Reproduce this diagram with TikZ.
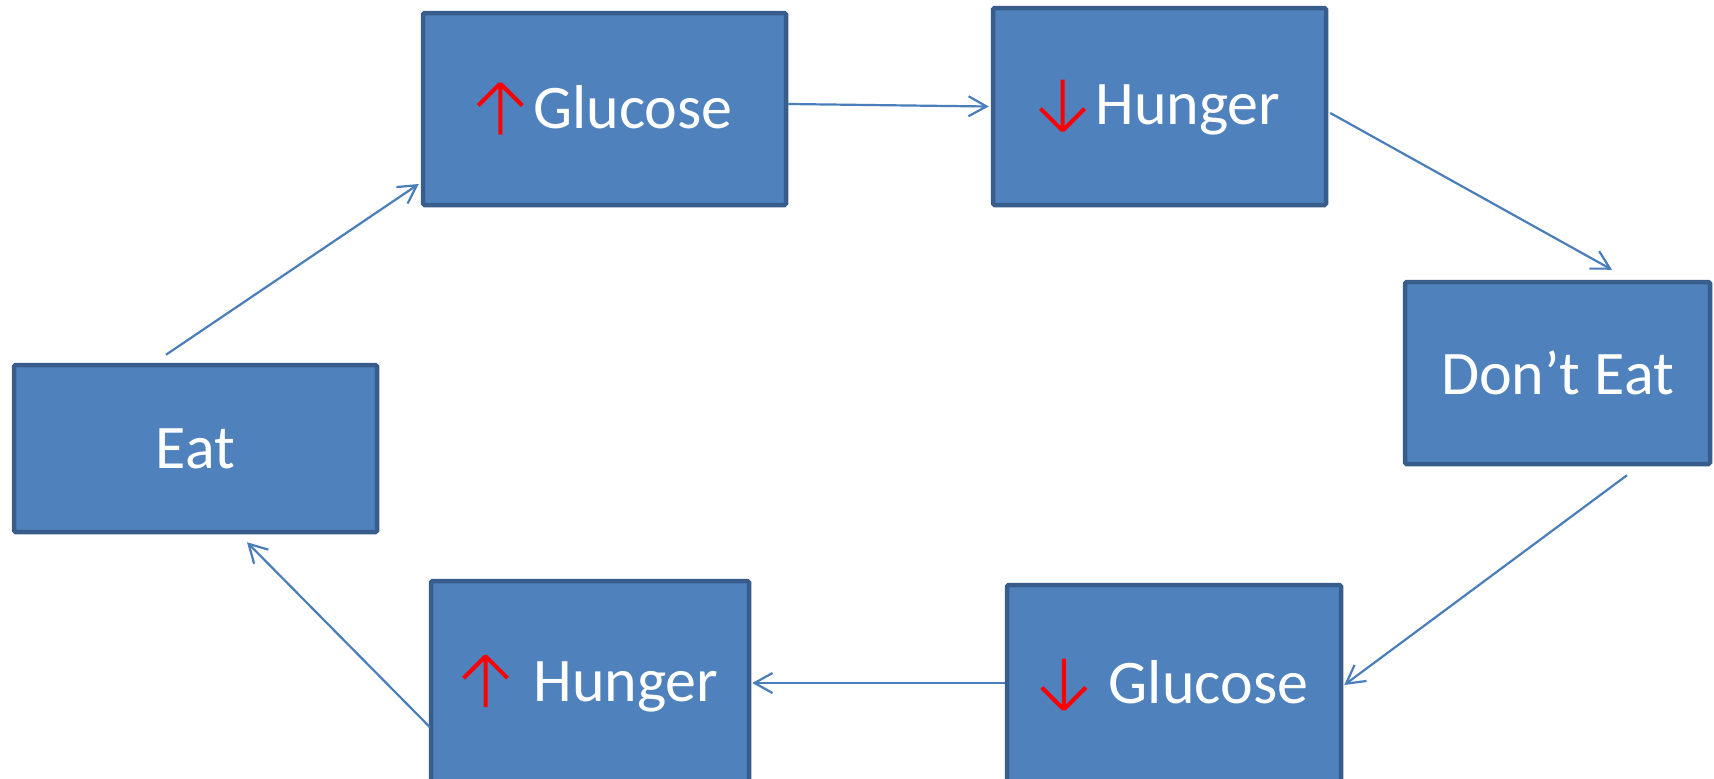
\documentclass[tikz,border=0pt]{standalone}
\usepackage{fontspec}
\setmainfont{Carlito}
\usetikzlibrary{arrows.meta,calc}
\definecolor{boxfill}{HTML}{4F81BD}
\definecolor{boxline}{HTML}{385D8A}
\definecolor{conn}{HTML}{4A7EBB}
\newcommand{\uparr}{\tikz[baseline=0pt,x=1pt,y=1pt]\draw[red,line width=4pt,line join=miter] (0,-6)--(0,45) (-22,23)--(0,45)--(22,23);}
\newcommand{\downarr}{\tikz[baseline=0pt,x=1pt,y=1pt]\draw[red,line width=4pt,line join=miter] (0,45)--(0,-6) (-22,16)--(0,-6)--(22,16);}
\tikzset{
  box/.style={draw=boxline, fill=boxfill, line width=4.5pt, rounded corners=1.5pt,
    text=white, inner sep=0pt, font=\fontsize{62}{74}\selectfont},
  conn/.style={draw=conn, line width=2.2pt,
    -{Straight Barb[length=18pt,width=20pt]}}
}
\begin{document}
\begin{tikzpicture}[x=1pt,y=-1pt]
\clip (0,0) rectangle (1714,779);
\fill[white] (0,0) rectangle (1714,779);
\node[box, minimum width=363pt, minimum height=167pt] (e) at (195.5,448.5) {Eat};
\node[box, minimum width=363pt, minimum height=192pt] (g1) at (604.5,109) {\uparr\hspace{9pt}Glucose};
\node[box, minimum width=333pt, minimum height=197pt] (h1) at (1159.5,106.5) {\downarr\hspace{9pt}Hunger};
\node[box, minimum width=305pt, minimum height=182pt] (d) at (1557.5,373) {Don’t Eat};
\node[box, minimum width=334pt, minimum height=198pt] (g2) at (1174,684) {\downarr\hspace{21pt}Glucose};
\node[box, minimum width=318pt, minimum height=204pt] (h2) at (590,683) {\uparr\hspace{24pt}Hunger};
\draw[conn] ($(e.north)+(-29.5,-8)$) -- ($(g1.west)+(-2,75)$);
\draw[conn] ($(g1.east)+(0,-5)$) -- ($(h1.west)+(-2,0)$);
\draw[conn] ($(h1.east)+(2,6.5)$) -- ($(d.north)+(54.5,-10)$);
\draw[conn] ($(d.south)+(69.5,9)$) -- ($(g2.east)+(1,1)$);
\draw[conn] ($(g2.west)+(0,-1)$) -- ($(h2.east)+(1,0)$);
\draw[conn] ($(h2.west)+(1,44)$) -- ($(e.south)+(51.5,8)$);
\end{tikzpicture}
\end{document}
